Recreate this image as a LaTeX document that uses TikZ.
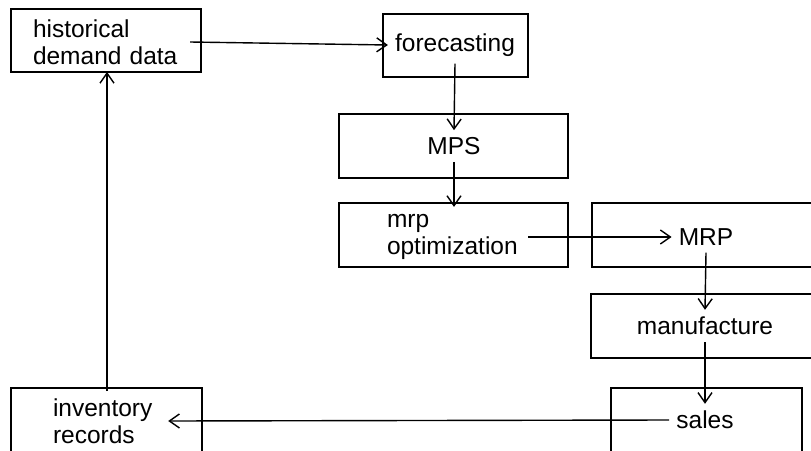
\documentclass[tikz,border=0pt]{standalone}
\usepackage{fontspec}
\setmainfont{Liberation Sans}
\usetikzlibrary{arrows.meta}
\begin{document}
\begin{tikzpicture}[x=1pt, y=-1pt, >={Straight Barb[length=10pt,width=14pt]},
    box/.style={line width=1.5pt},
    lbl/.style={inner sep=7pt, font=\fontsize{24.5}{27.5}\selectfont},
    flow/.style={->, line width=1.4pt}]
    \useasboundingbox (0,0) rectangle (811,450);
    \clip (0,0) rectangle (811,450);

    % 1. boxes
    \draw[box] (11,9) rectangle (201,72);
    \draw[box] (383,14) rectangle (528,77);
    \draw[box] (339,114) rectangle (568,178);
    \draw[box] (339,203) rectangle (568,267);
    \draw[box] (592,203) rectangle (830,267);
    \draw[box] (591,294) rectangle (830,358);
    \draw[box] (611,388) rectangle (802,470);
    \draw[box] (11,388) rectangle (202,470);

    % 2. labels
    \node[lbl, text width=150pt, align=left] (hist) at (108,42) {historical\\demand data};
    \node[lbl] (fc) at (455,45) {forecasting};
    \node[lbl] (mps) at (454,146) {MPS};
    \node[lbl, text width=134pt, align=left] (opt) at (454,237) {mrp\\optimization};
    \node[lbl] (mrp) at (706,237) {MRP};
    \node[lbl] (manu) at (705,326) {manufacture};
    \node[lbl] (sales) at (705,420) {sales};
    \node[lbl, text width=108pt, align=left] (inv) at (107,421) {inventory\\records};

    % 3. flow
    \draw[flow] (hist.east) -- (fc.west);
    \draw[flow] (fc.south) -- (mps.north);
    \draw[flow] (mps.south) -- (opt.north);
    \draw[flow] (opt.east) -- (mrp.west);
    \draw[flow] (mrp.south) -- (manu.north);
    \draw[flow] (manu.south) -- (sales.north);
    \draw[flow] (sales.west) -- (inv.east);
    \draw[flow] (inv.north) -- (inv.north |- hist.south);

\end{tikzpicture}
\end{document}
